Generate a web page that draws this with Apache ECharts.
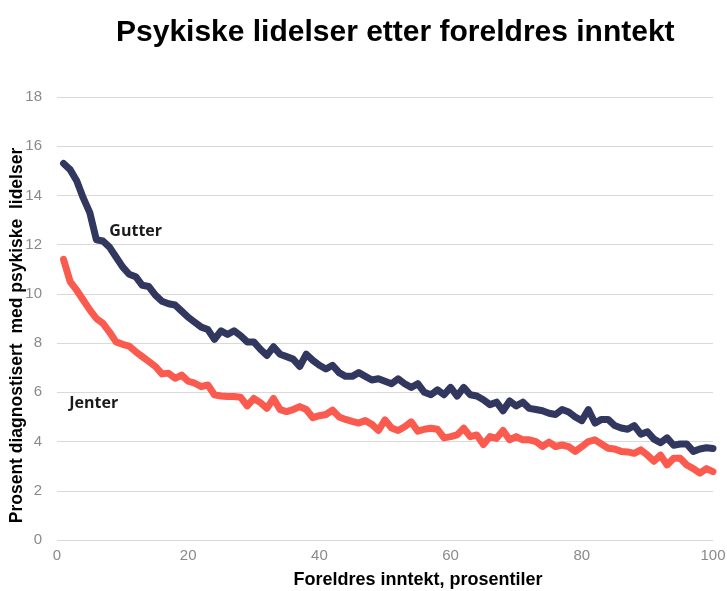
<!DOCTYPE html>
<html>
<head>
<meta charset="utf-8">
<script src="https://cdn.jsdelivr.net/npm/echarts@6/dist/echarts.min.js"></script>
<style>
  html, body { margin: 0; padding: 0; background: #fff; }
  #main { width: 727px; height: 591px; }
</style>
</head>
<body>
<div id="main"></div>
<script>
// percentil 1..100
const percentiles = Array.from({ length: 100 }, (_, i) => i + 1);

const gutter = [
  15.3, 15.05, 14.6, 13.9, 13.3, 12.2, 12.15, 11.9, 11.5, 11.1,
  10.8, 10.7, 10.35, 10.3, 9.95, 9.7, 9.6, 9.55, 9.3, 9.05,
  8.85, 8.65, 8.55, 8.15, 8.5, 8.35, 8.5, 8.3, 8.05, 8.05,
  7.75, 7.5, 7.85, 7.55, 7.45, 7.35, 7.05, 7.55, 7.3, 7.1,
  6.95, 7.1, 6.8, 6.65, 6.65, 6.8, 6.65, 6.5, 6.55, 6.45,
  6.35, 6.55, 6.35, 6.2, 6.35, 6.0, 5.9, 6.1, 5.9, 6.2,
  5.85, 6.2, 5.9, 5.85, 5.7, 5.5, 5.6, 5.25, 5.65, 5.45,
  5.6, 5.35, 5.3, 5.25, 5.15, 5.1, 5.3, 5.2, 5.0, 4.85,
  5.3, 4.75, 4.9, 4.9, 4.65, 4.55, 4.5, 4.65, 4.3, 4.4,
  4.1, 3.95, 4.15, 3.85, 3.9, 3.9, 3.6, 3.7, 3.75, 3.72
];

const jenter = [
  11.4, 10.5, 10.15, 9.75, 9.35, 9.0, 8.8, 8.45, 8.05, 7.95,
  7.88, 7.65, 7.45, 7.25, 7.05, 6.75, 6.78, 6.57, 6.7, 6.45,
  6.37, 6.23, 6.3, 5.9, 5.85, 5.83, 5.83, 5.8, 5.45, 5.75,
  5.58, 5.35, 5.75, 5.3, 5.22, 5.3, 5.42, 5.3, 4.97, 5.05,
  5.1, 5.28, 5.0, 4.9, 4.82, 4.75, 4.85, 4.7, 4.45, 4.88,
  4.55, 4.45, 4.6, 4.8, 4.42, 4.5, 4.54, 4.5, 4.15, 4.2,
  4.27, 4.54, 4.2, 4.27, 3.88, 4.2, 4.13, 4.45, 4.07, 4.2,
  4.07, 4.07, 4.0, 3.8, 3.98, 3.8, 3.86, 3.79, 3.6, 3.79,
  4.0, 4.07, 3.9, 3.73, 3.7, 3.6, 3.58, 3.52, 3.66, 3.45,
  3.2, 3.45, 3.05, 3.32, 3.32, 3.05, 2.9, 2.72, 2.9, 2.78
];

const seriesNames = ['Gutter', 'Jenter'];
// hvor navnene står i diagrammet (x, y i dataenheter)
const labelCoords = [[12, 12.55], [5.6, 5.53]];

const titleText = 'Psykiske lidelser etter foreldres inntekt';
const xName = 'Foreldres inntekt, prosentiler';
const yName = 'Prosent diagnostisert  med psykiske  lidelser';

const colors = ['#31375f', '#fb5a4e'];

function toPairs(values) {
  return values.map((v, i) => [percentiles[i], v]);
}

function makeSeries(name, values, color, coord) {
  return {
    type: 'line',
    name: name,
    data: toPairs(values),
    showSymbol: false,
    symbol: 'none',
    lineStyle: { color: color, width: 7, cap: 'round', join: 'round' },
    itemStyle: { color: color },
    markPoint: {
      symbol: 'circle',
      symbolSize: 1,
      itemStyle: { color: 'rgba(0,0,0,0)' },
      label: {
        show: true,
        position: 'inside',
        formatter: name,
        color: '#1a1a1a',
        fontFamily: 'Open Sans',
        fontWeight: 'bold',
        fontSize: 16
      },
      data: [{ coord: coord }]
    }
  };
}

const chart = echarts.init(document.getElementById('main'));

chart.setOption({
  animation: false,
  backgroundColor: '#ffffff',
  title: {
    text: titleText,
    left: 111,
    top: 13,
    textStyle: {
      fontFamily: 'Liberation Sans',
      fontWeight: 'bold',
      fontSize: 30,
      color: '#000'
    }
  },
  grid: { left: 57, right: 14, top: 97, bottom: 51, outerBoundsMode: 'none' },
  xAxis: {
    type: 'value',
    min: 0,
    max: 100,
    interval: 20,
    name: xName,
    nameLocation: 'middle',
    nameGap: 31,
    nameTextStyle: {
      fontFamily: 'Liberation Sans',
      fontWeight: 'bold',
      fontSize: 18,
      color: '#000',
      padding: [0, 0, 0, 66]
    },
    axisLine: { show: false },
    axisTick: { show: false },
    splitLine: { show: false },
    axisLabel: {
      color: '#8a8a8a',
      fontFamily: 'Liberation Sans',
      fontSize: 15,
      margin: 8
    }
  },
  yAxis: {
    type: 'value',
    min: 0,
    max: 18,
    interval: 2,
    name: yName,
    nameLocation: 'middle',
    nameGap: 31,
    nameMoveOverlap: false,
    nameTextStyle: {
      fontFamily: 'Liberation Sans',
      fontWeight: 'bold',
      fontSize: 17.5,
      color: '#000',
      padding: [0, 34, 0, 0]
    },
    axisLine: { show: false },
    axisTick: { show: false },
    splitLine: { lineStyle: { color: '#d9d9d9', width: 1 } },
    axisLabel: {
      color: '#8a8a8a',
      fontFamily: 'Liberation Sans',
      fontSize: 15,
      margin: 15
    }
  },
  series: [
    makeSeries(seriesNames[0], gutter, colors[0], labelCoords[0]),
    makeSeries(seriesNames[1], jenter, colors[1], labelCoords[1])
  ]
});
</script>
</body>
</html>
